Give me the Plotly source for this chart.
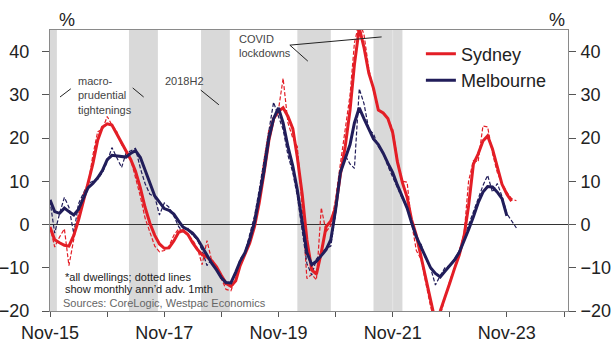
import pandas as pd
import plotly.graph_objects as go

# ---------------- data ----------------
start = "2015-11-01"
# Sydney: smoothed (solid) and monthly ann'd (dashed), monthly from Nov-15
syd_smooth = [-0.6, -3.5, -4.2, -4.8, -5.0, -2.5, 1.0, 5.0, 9.5, 14.0,
              19.5, 22.5, 23.3, 23.0, 21.0, 19.0, 17.0, 15.0, 12.3, 8.5,
              4.0, 0.3, -2.5, -4.5, -5.5, -5.4, -3.8, -1.8, -1.4, -2.3,
              -4.2, -5.8, -7.0, -7.5, -8.4, -9.8, -11.8, -13.6, -14.3, -13.0,
              -9.5, -7.0, -4.3, -0.5, 5.0, 12.0, 19.5, 24.5, 26.2, 27.0,
              25.0, 22.2, 15.5, 7.0, -3.5, -10.5, -11.5, -6.5, -0.5, 0.8,
              4.0, 11.5, 18.0, 26.5, 37.0, 45.5, 41.0, 35.0, 31.5, 26.5,
              25.8, 24.5, 21.2, 14.5, 9.8, 6.3, 1.2, -2.5, -7.5, -12.7,
              -17.8, -22.5, -20.0, -17.0, -13.5, -10.2, -7.0, -2.5, 4.3, 14.0,
              16.3, 19.3, 20.5, 17.5, 13.0, 9.3, 7.0, 5.4]
syd_monthly = [-0.5, -5.2, -2.9, -1.0, -9.5, -3.7, 2.5, 7.0, 9.0, 16.0,
               21.5, 22.0, 25.0, 23.0, 21.5, 18.5, 17.0, 15.0, 11.0, 6.5,
               1.5, -2.0, -5.0, -6.3, -6.0, -5.0, -2.5, -1.0, -1.5, -2.5,
               -3.5, -5.5, -9.3, -3.7, -8.5, -10.5, -12.5, -15.0, -15.3, -12.5,
               -9.0, -6.5, -3.0, 1.5, 7.0, 15.0, 22.0, 24.5, 26.5, 33.8,
               23.5, 20.0, 18.0, 4.0, -12.5, -11.5, -12.8, 3.9, -1.7, -0.2,
               6.0, 14.0, 22.0, 30.0, 42.0, 47.0, 44.0, 36.0, 31.0, 26.3,
               26.0, 24.5, 22.0, 15.0, 10.0, 9.8, 0.5, -6.0, -8.0, -13.5,
               -19.0, -23.0, -21.0, -17.0, -13.0, -10.0, -6.0, -2.0, 10.0, 14.8,
               14.5, 22.8, 22.6, 16.5, 12.0, 9.5, 7.5, 6.0, 5.5]
# Melbourne
mel_smooth = [5.7, 3.0, 2.6, 3.8, 3.0, 2.2, 3.5, 6.0, 8.5, 9.5,
              10.8, 12.5, 15.0, 16.0, 15.9, 15.7, 15.6, 16.5, 17.1, 15.5,
              12.5, 9.2, 6.6, 5.2, 3.7, 3.3, 2.4, 0.8, -0.6, -1.2,
              -2.0, -3.3, -5.2, -7.3, -9.0, -10.5, -12.3, -13.4, -13.5, -11.0,
              -8.5, -6.5, -3.5, 0.5, 6.0, 12.5, 20.0, 24.5, 27.0, 23.5,
              18.0, 13.5, 8.0, 1.0, -6.5, -9.3, -8.5, -7.2, -5.8, -3.5,
              3.5, 12.0, 15.5, 18.5, 23.5, 27.0, 24.5, 22.0, 19.8, 18.5,
              16.5, 14.2, 12.0, 9.1, 6.5, 3.8, 0.5, -2.8, -5.2, -7.5,
              -10.0, -11.3, -12.1, -10.8, -9.6, -8.2, -6.4, -3.8, -1.2, 1.8,
              5.0, 7.5, 8.8, 8.7, 7.5, 6.0, 2.0]
mel_monthly = [5.5, -2.0, 2.5, 6.3, 4.0, -2.1, 4.8, 7.0, 9.5, 10.0,
               10.5, 12.0, 14.5, 17.8, 15.5, 13.2, 16.5, 17.0, 17.6, 13.0,
               9.5, 7.0, 6.5, 2.2, 5.0, 4.0, 2.0, -0.5, -1.7, -0.9,
               -2.5, -3.5, -6.0, -9.5, -8.0, -10.5, -12.5, -14.0, -13.5, -11.5,
               -8.0, -6.5, -2.5, 2.0, 8.0, 15.0, 22.5, 28.3, 25.0, 22.0,
               16.0, 12.0, 6.5, -1.0, -9.0, -11.7, -8.0, -6.5, -5.5, -5.0,
               2.5, 12.5, 16.0, 14.0, 13.0, 31.4, 28.0, 22.0, 21.0, 18.0,
               16.5, 13.5, 11.0, 8.5, 6.0, 4.0, 0.5, -3.5, -4.5, -8.0,
               -10.0, -14.0, -11.8, -10.0, -9.5, -8.0, -6.0, -3.0, 0.0, 3.0,
               6.0, 9.0, 11.4, 7.5, 9.5, 6.5, 2.5, 1.0, -0.8]

# shaded periods (macro-prudential tightenings, 2018H2, COVID lockdowns)
band_starts = ["2015-10-01", "2017-03-20", "2018-06-24", "2020-03-01", "2021-07-01", "2021-11-01"]
band_ends   = ["2015-12-15", "2017-09-21", "2018-12-25", "2020-10-01", "2021-11-01", "2022-01-02"]

tick_vals = ["2015-11-01", "2016-11-01", "2017-11-01", "2018-11-01", "2019-11-01",
             "2020-11-01", "2021-11-01", "2022-11-01", "2023-11-01", "2024-11-01"]
tick_text = ["Nov-15", "", "Nov-17", "", "Nov-19", "", "Nov-21", "", "Nov-23", ""]
y_ticks = [-20, -10, 0, 10, 20, 30, 40]

RED = "#E31E26"
NAVY = "#211D5A"
FONT = "Liberation Sans, Arial, sans-serif"


def dates(n):
    return pd.date_range(start, periods=n, freq="MS")


fig = go.Figure()
fig.add_trace(go.Scatter(x=dates(len(syd_monthly)), y=syd_monthly, mode="lines",
                         line=dict(color=RED, width=1.2, dash="4px,2px"),
                         showlegend=False, hoverinfo="skip"))
fig.add_trace(go.Scatter(x=dates(len(mel_monthly)), y=mel_monthly, mode="lines",
                         line=dict(color=NAVY, width=1.2, dash="4px,2px"),
                         showlegend=False, hoverinfo="skip"))
fig.add_trace(go.Scatter(x=dates(len(syd_smooth)), y=syd_smooth, mode="lines",
                         line=dict(color=RED, width=3), name="Sydney"))
fig.add_trace(go.Scatter(x=dates(len(mel_smooth)), y=mel_smooth, mode="lines",
                         line=dict(color=NAVY, width=3), name="Melbourne"))
# invisible copy bound to the right-hand axis so that it is drawn
fig.add_trace(go.Scatter(x=dates(len(syd_smooth)), y=syd_smooth, mode="lines",
                         yaxis="y2", line=dict(color="rgba(0,0,0,0)", width=0),
                         showlegend=False, hoverinfo="skip"))

for s, e in zip(band_starts, band_ends):
    fig.add_shape(type="rect", xref="x", yref="paper", x0=s, x1=e, y0=0, y1=1,
                  fillcolor="#D9D9D9", line=dict(width=0), layer="below")
fig.add_shape(type="line", xref="x", yref="paper", x0="2021-11-01", x1="2021-11-01",
              y0=0, y1=1, line=dict(color="#E4E4E4", width=1), layer="below")

# leader lines for annotations
leaders = [("2016-01-04", 29.5, "2016-03-13", 31.4),
           ("2017-04-13", 31.6, "2017-06-22", 29.5),
           ("2018-06-22", 31.1, "2018-10-16", 27.7),
           ("2020-01-13", 41.5, "2020-05-07", 37.8),
           ("2020-01-13", 41.5, "2021-08-22", 43.4)]
for x0, y0, x1, y1 in leaders:
    fig.add_shape(type="line", xref="x", yref="y", x0=x0, y0=y0, x1=x1, y1=y1,
                  line=dict(color="#222222", width=1))

ann_font = dict(family=FONT, size=11, color="#444444")
fig.add_annotation(x="2016-04-15", y=29.8, xref="x", yref="y", showarrow=False,
                   text="macro-<br>prudential<br>tightenings", align="left",
                   xanchor="left", yanchor="middle", font=ann_font)
fig.add_annotation(x="2017-10-22", y=33.2, xref="x", yref="y", showarrow=False,
                   text="2018H2", xanchor="left", yanchor="middle", font=ann_font)
fig.add_annotation(x="2019-02-09", y=41.2, xref="x", yref="y", showarrow=False,
                   text="COVID<br>lockdowns", align="left",
                   xanchor="left", yanchor="middle", font=ann_font)

note_font = dict(family=FONT, size=11, color="#222222")
fig.add_annotation(x=0.025, y=0.121, xref="paper", yref="paper", showarrow=False,
                   text="*all dwellings; dotted lines", xanchor="left", yanchor="middle",
                   font=note_font)
fig.add_annotation(x=0.025, y=0.078, xref="paper", yref="paper", showarrow=False,
                   text="show monthly ann\u2019d adv. 1mth", xanchor="left", yanchor="middle",
                   font=note_font)
fig.add_annotation(x=0.021, y=0.0285, xref="paper", yref="paper", showarrow=False,
                   text="Sources: CoreLogic, Westpac Economics", xanchor="left",
                   yanchor="middle", font=dict(family=FONT, size=11, color="#666666"))

fig.add_annotation(x=0.0, y=1.0, xref="paper", yref="paper", yshift=10, xshift=17,
                   showarrow=False, text="%", xanchor="center", yanchor="middle",
                   font=dict(family=FONT, size=18, color="#222222"))
fig.add_annotation(x=1.0, y=1.0, xref="paper", yref="paper", yshift=10, xshift=-11,
                   showarrow=False, text="%", xanchor="center", yanchor="middle",
                   font=dict(family=FONT, size=18, color="#222222"))

axis_line = "#8A8A8A"
tick_font = dict(family=FONT, size=18, color="#222222")
fig.update_layout(
    width=613, height=345,
    margin=dict(l=50, r=45, t=30, b=34, autoexpand=False),
    paper_bgcolor="white", plot_bgcolor="white",
    font=dict(family=FONT, color="#222222"),
    showlegend=True,
    legend=dict(x=0.716, y=0.98, xanchor="left", yanchor="top",
                bgcolor="rgba(0,0,0,0)", font=dict(family=FONT, size=18, color="#222222"),
                traceorder="normal", tracegroupgap=0, itemclick=False),
    xaxis=dict(type="date", range=["2015-11-01", "2024-11-26"],
               tickvals=tick_vals, ticktext=tick_text, ticks="outside", ticklen=5,
               tickcolor="#555555", showline=True, linecolor=axis_line, mirror=True,
               showgrid=False, zeroline=False, tickfont=tick_font, tickangle=0,
               automargin=False),
    yaxis=dict(range=[-20, 45], tickvals=y_ticks, ticks="outside", ticklen=7,
               tickcolor="#555555", showline=True, linecolor=axis_line, mirror=True,
               showgrid=False, zeroline=True, zerolinecolor="#333333", zerolinewidth=1,
               tickfont=tick_font, ticklabelstandoff=9, automargin=False),
    yaxis2=dict(range=[-20, 45], overlaying="y", side="right",
                tickvals=y_ticks, ticks="outside", ticklen=7, tickcolor="#555555",
                showline=True, linecolor=axis_line, showgrid=False, zeroline=False,
                tickfont=tick_font, ticklabelstandoff=1, automargin=False),
)

fig.write_html("out.html", config={"displayModeBar": False},
               post_script="document.body.style.margin='0';document.body.style.overflow='hidden';")
